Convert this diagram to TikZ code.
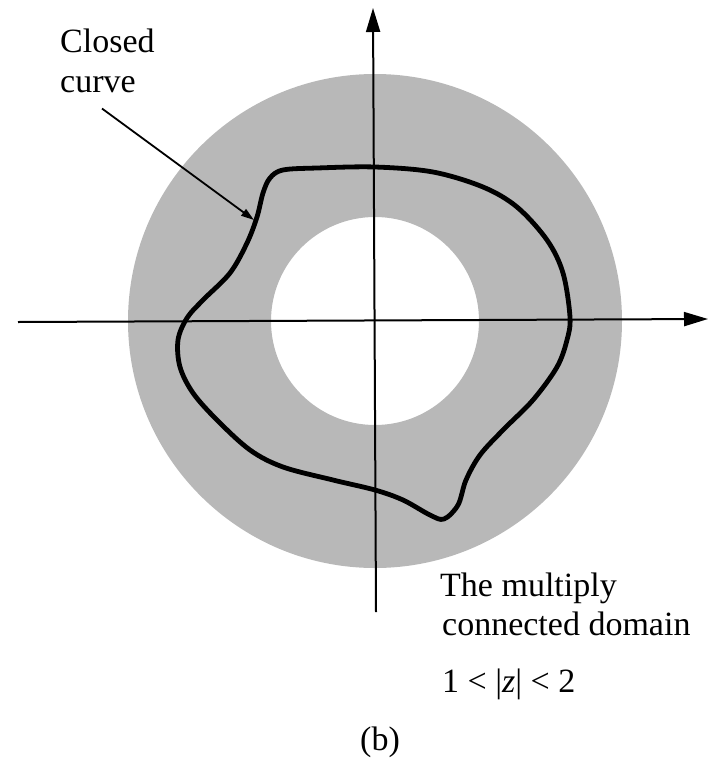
\documentclass[tikz,border=0pt]{standalone}
\usepackage{fontspec}
\setmainfont{Liberation Serif}
\usetikzlibrary{arrows.meta}
\definecolor{annulusgray}{rgb}{0.72,0.72,0.72}
\begin{document}
\begin{tikzpicture}[x=1pt,y=-1pt,
  lbl/.style={anchor=base west,inner sep=0pt,font=\fontsize{34}{40}\selectfont},
  axis/.style={line width=2pt,-{Triangle[length=24pt,width=14pt]}},
  pointer/.style={line width=1.8pt,-{Triangle[length=13pt,width=8pt]}}]
\useasboundingbox (0,0) rectangle (709,761);
% annulus
\fill[annulusgray,even odd rule] (375,321) circle[radius=247] (375,321) circle[radius=104];
% axes
\coordinate (xl) at (18,322);
\coordinate (xr) at (708,319);
\coordinate (yb) at (376,612);
\coordinate (yt) at (373,8);
\draw[axis] (xl) -- (xr);
\draw[axis] (yb) -- (yt);
% closed curve
\draw[line width=4.8pt,line join=round] plot[smooth cycle,tension=0.55] coordinates {
 (375,167) (433,172) (483,187) (517,207) (547,240) (563,273) (570,317)
 (567,340) (557,367) (533,400) (503,430) (480,455) (466,480) (458,505)
 (444,519) (430,515) (403,500) (375,490) (333,480) (283,467) (250,450)
 (217,420) (193,393) (180,367) (178,340) (187,318) (203,300) (230,273)
 (247,243) (257,217) (263,193) (270,178) (283,170) (317,168)};
% labels
\node[lbl] (closed) at (60,52) {Closed};
\node[lbl] (curve) at (60,92) {curve};
\node[lbl] (t1) at (440,596) {The multiply};
\node[lbl] (t2) at (442,635) {connected domain};
\node[lbl] (t3) at (442,692) {1 < |\textit{z}| < 2};
\node[lbl,anchor=base] (b) at (380,750) {(b)};
% pointer
\coordinate (tip) at (254,220);
\draw[pointer] (curve.south -| 102,0) ++(0,16) -- (tip);
\end{tikzpicture}
\end{document}
